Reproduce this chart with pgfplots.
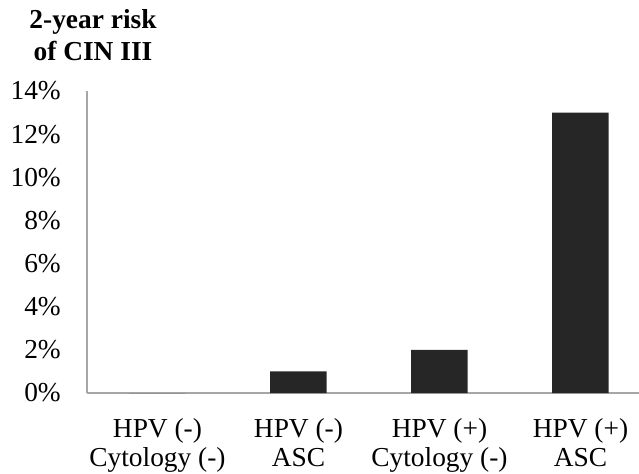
\documentclass[border=0pt]{standalone}
\usepackage{pgfplots}
\pgfplotsset{compat=1.18}
\usepackage{fontspec}
\setmainfont{Liberation Serif}
\definecolor{barc}{HTML}{262626}
\definecolor{axc}{HTML}{A6A6A6}
\begin{document}
\fontsize{27.5}{29}\selectfont
\begin{tikzpicture}
\path[use as bounding box] (-87bp,-81bp) rectangle (552bp,393bp);
\begin{axis}[
  scale only axis, width=552bp, height=302bp,
  xmin=-0.5, xmax=3.415, ymin=0, ymax=14,
  axis x line=bottom, axis y line=left,
  axis line style={axc, line width=1.2bp, -},
  major tick length=0pt,
  ytick={0,2,...,14},
  /pgf/number format/assume math mode=true,
  yticklabel={\pgfmathprintnumber{\tick}\%},
  xtick={0,1,2,3},
  xticklabels={{HPV (-)\\Cytology (-)},{HPV (-)\\ASC},{HPV (+)\\Cytology (-)},{HPV (+)\\ASC}},
  xticklabel style={align=center, inner sep=0pt, yshift=-25bp, font=\fontsize{27.5}{29}\selectfont},
  yticklabel style={inner sep=0pt, xshift=-26bp, font=\fontsize{27.5}{29}\selectfont},
  ybar, bar width=56.5bp,
]
\addplot[fill=barc, draw=none] coordinates {(0,0) (1,1) (2,2) (3,13)};
\end{axis}
\node[font=\bfseries\fontsize{27.5}{29}\selectfont, anchor=base] at (6bp,364bp) {2-year risk};
\node[font=\bfseries\fontsize{27.5}{29}\selectfont, anchor=base] at (6bp,332bp) {of CIN III};
\end{tikzpicture}
\end{document}
